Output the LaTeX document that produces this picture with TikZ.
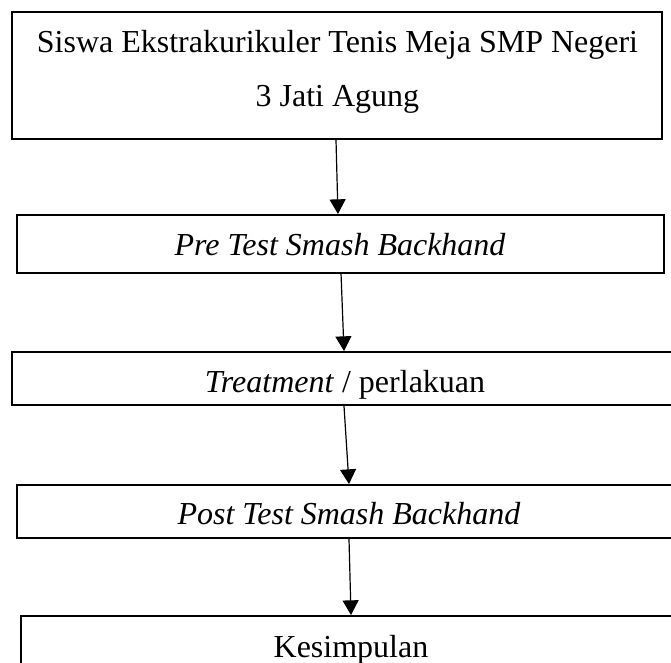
\documentclass[tikz,border=0pt]{standalone}
\usepackage{fontspec}
\setmainfont{Liberation Serif}
\usetikzlibrary{arrows.meta}
\tikzset{
  boxnode/.style={draw=black, line width=1.5pt, rectangle, inner sep=0pt, fill=none},
  txt/.style={inner sep=0pt, font=\fontsize{24}{40.5}\selectfont, text=black},
  flowarrow/.style={draw=black, line width=0.9pt, -{Triangle[length=11pt,width=12pt]}}
}
\begin{document}
\begin{tikzpicture}[x=0.75pt,y=-0.75pt]
\useasboundingbox (0,0) rectangle (671,662);
\fill[white] (0,0) rectangle (671,662);
\clip (0,0) rectangle (671,662);
% boxes
\node[boxnode, minimum width=650*0.75pt, minimum height=127*0.75pt] (b1) at (337,75.5) {};
\node[boxnode, minimum width=647*0.75pt, minimum height=58*0.75pt] (b2) at (340.5,244) {};
\node[boxnode, minimum width=666*0.75pt, minimum height=53*0.75pt] (b3) at (345,378.5) {};
\node[boxnode, minimum width=664*0.75pt, minimum height=53*0.75pt] (b4) at (349,511.5) {};
\node[boxnode, minimum width=660*0.75pt, minimum height=84*0.75pt] (b5) at (351,658) {};
% texts
\node[txt, align=center, anchor=north] (t1) at (337.5,30.5) {Siswa Ekstrakurikuler Tenis Meja SMP Negeri\\3 Jati Agung};
\node[txt, anchor=base] (t2) at (340,255) {\itshape Pre Test Smash Backhand};
\node[txt, anchor=base] (t3) at (345,392) {\textit{Treatment} / perlakuan};
\node[txt, anchor=base] (t4) at (349,524) {\itshape Post Test Smash Backhand};
\node[txt, anchor=base] (t5) at (351,657) {Kesimpulan};
% arrows
\draw[flowarrow] ([xshift=-0.75pt]b1.south) -- ([xshift=-1.9pt]b2.north);
\draw[flowarrow] ([xshift=0.4pt]b2.south) -- ([xshift=-0.75pt]b3.north);
\draw[flowarrow] ([xshift=-0.75pt]b3.south) -- (b4.north);
\draw[flowarrow] (b4.south) -- (b5.north);
\end{tikzpicture}
\end{document}
